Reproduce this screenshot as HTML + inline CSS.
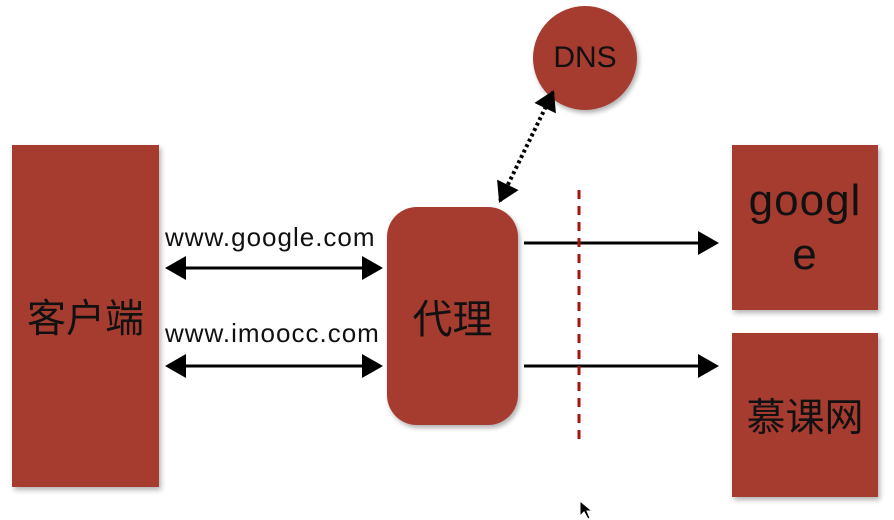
<!DOCTYPE html>
<html><head><meta charset="utf-8"><style>
body{margin:0;width:894px;height:520px;background:#fff;overflow:hidden;position:relative;font-family:"Liberation Sans","Noto Sans CJK SC",sans-serif}
.b{position:absolute;background:#a63b2f;box-shadow:2px 3px 5px rgba(0,0,0,.3);display:flex;align-items:center;justify-content:center;color:#111;text-align:center}
.t{position:absolute;font-size:26px;color:#111;letter-spacing:1px}
</style></head><body>
<div class="b" style="left:12px;top:145px;width:147px;height:342px;font-size:39px">客户端</div>
<div class="b" style="left:387px;top:207px;width:131px;height:218px;border-radius:30px;font-size:40px">代理</div>
<div class="b" style="left:533px;top:6px;width:104px;height:104px;border-radius:50%;font-size:30px">DNS</div>
<div class="b" style="left:732px;top:145px;width:146px;height:165px;font-size:44px;line-height:54px;letter-spacing:1px">googl<br>e</div>
<div class="b" style="left:732px;top:333px;width:146px;height:164px;font-size:39px">慕课网</div>
<div class="t" style="left:165px;top:222px">www.google.com</div>
<div class="t" style="left:165px;top:318px">www.imoocc.com</div>
<svg width="894" height="520" style="position:absolute;left:0;top:0">
<defs><marker id="a" markerWidth="8" markerHeight="8" refX="6" refY="4" orient="auto-start-reverse" markerUnits="strokeWidth"><path d="M0,0 L7,4 L0,8 z" fill="#000"/></marker>
<marker id="s" markerWidth="6" markerHeight="6" refX="4.5" refY="3" orient="auto-start-reverse" markerUnits="strokeWidth"><path d="M0,0 L5,3 L0,6 z" fill="#000"/></marker></defs>
<g stroke="#000" stroke-width="3">
<line x1="168" y1="268" x2="380" y2="268" marker-start="url(#a)" marker-end="url(#a)"/>
<line x1="168" y1="366" x2="380" y2="366" marker-start="url(#a)" marker-end="url(#a)"/>
<line x1="524" y1="243" x2="716" y2="243" marker-end="url(#a)"/>
<line x1="524" y1="366" x2="716" y2="366" marker-end="url(#a)"/>
<line x1="500" y1="201" x2="553" y2="92" stroke-width="4" stroke-dasharray="3,3" marker-start="url(#s)" marker-end="url(#s)"/>
</g>
<line x1="579" y1="190" x2="579" y2="445" stroke="#a8120e" stroke-width="3" stroke-dasharray="9,7"/>
<path d="M580,501 L580,516 L584,512 L588,519 L590,518 L587,511 L592,511 z" fill="#000" stroke="#fff" stroke-width="1"/>
</svg>
</body></html>
